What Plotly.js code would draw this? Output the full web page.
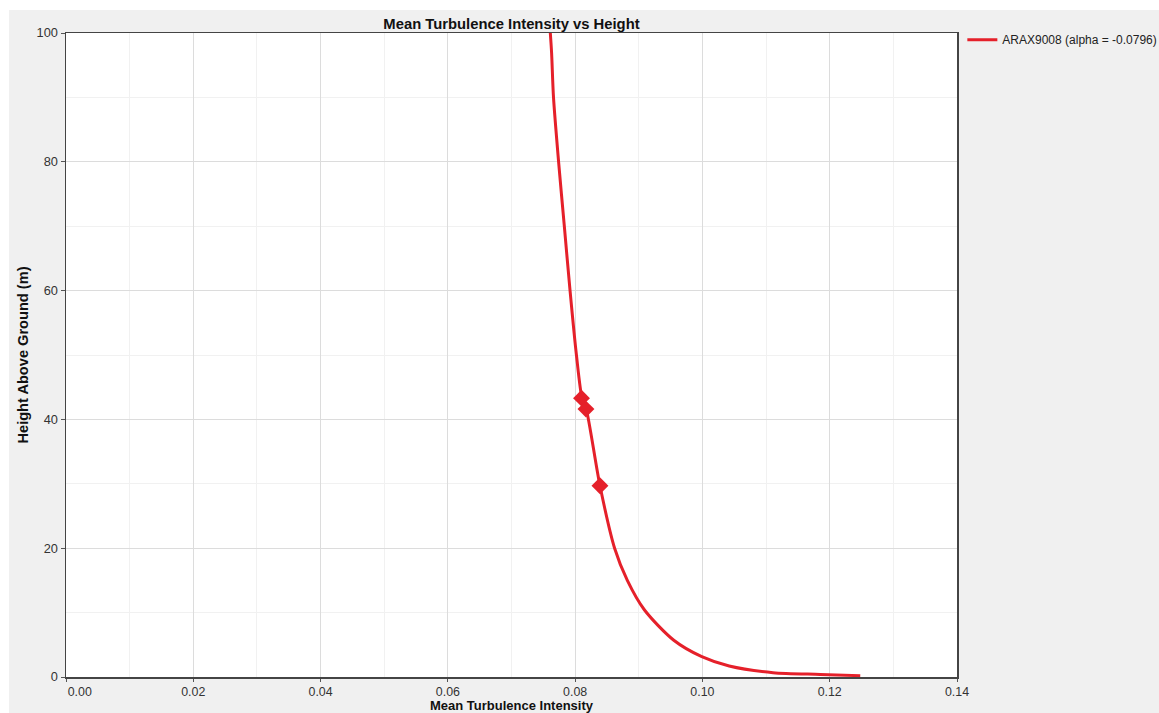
<!DOCTYPE html>
<html>
<head>
<meta charset="utf-8">
<script src="https://cdn.plot.ly/plotly-3.0.1.min.js"></script>
<style>
  html, body { margin: 0; padding: 0; background: #ffffff; }
  #chart { position: absolute; left: 9px; top: 10px; width: 1150px; height: 703px; }
</style>
</head>
<body>
<div id="chart"></div>
<script>
// Turbulence intensity profile (power-law fit) and measured points
const profileHeight = [100, 96.9, 90, 80, 70, 60, 50, 43.2, 41.8, 29.7, 20, 15, 10.4, 5.7, 3.15, 1.7, 0.67, 0.4, 0.2];
const profileTI     = [0.0761, 0.0763, 0.0766, 0.0774, 0.0783, 0.0792, 0.0802, 0.0811, 0.0817, 0.0839, 0.0862, 0.0882, 0.0909, 0.0955, 0.0999, 0.1042, 0.1111, 0.1185, 0.1248];

const measuredHeight = [43.3, 41.6, 29.7];
const measuredTI     = [0.0810, 0.0817, 0.0839];

const seriesName = 'ARAX9008 (alpha = -0.0796)';
const xTitle = 'Mean Turbulence Intensity';
const yTitle = 'Height Above Ground (m)';

const xTickVals = [0, 0.02, 0.04, 0.06, 0.08, 0.10, 0.12, 0.14];
const xTickText = ['\u00a0\u00a0\u00a0\u00a0\u00a0\u00a0\u00a0\u00a00.00', '0.02', '0.04', '0.06', '0.08', '0.10', '0.12', '0.14'];
const yTickVals = [0, 20, 40, 60, 80, 100];

const red = '#e5202a';
const fontFamily = '"Liberation Sans", Arial, sans-serif';

const traces = [
  {
    type: 'scatter', mode: 'lines',
    x: profileTI, y: profileHeight,
    name: seriesName,
    line: { color: red, width: 3, shape: 'spline', smoothing: 0.8 },
    hoverinfo: 'x+y'
  },
  {
    type: 'scatter', mode: 'markers',
    x: measuredTI, y: measuredHeight,
    showlegend: false,
    marker: { symbol: 'diamond', size: 13, color: red, line: { width: 0 } },
    hoverinfo: 'x+y'
  }
];

const axisCommon = {
  showline: true, linecolor: '#444444', linewidth: 1.5, mirror: true,
  ticks: 'outside', ticklen: 4, tickcolor: '#555555', tickwidth: 1,
  gridcolor: '#dcdcdc', gridwidth: 1,
  zeroline: false,
  tickfont: { family: fontFamily, size: 12.8, color: '#333333' }
};

const layout = {
  width: 1150, height: 703,
  paper_bgcolor: '#f0f0f0', plot_bgcolor: '#ffffff',
  margin: { l: 57, r: 202, t: 23, b: 36, autoexpand: false },
  font: { family: fontFamily, size: 12, color: '#000000' },
  title: {
    text: 'Mean Turbulence Intensity vs Height',
    font: { family: fontFamily, size: 14.8, weight: 'bold', color: '#111111' },
    xref: 'paper', x: 0.5, xanchor: 'center',
    yref: 'container', y: 0.981, yanchor: 'middle'
  },
  xaxis: Object.assign({}, axisCommon, {
    range: [0, 0.14],
    ticklen: 3,
    tickfont: { family: fontFamily, size: 12.4, color: '#333333' },
    tickmode: 'array', tickvals: xTickVals, ticktext: xTickText,
    minor: { dtick: 0.01, showgrid: true, gridcolor: '#f1f1f1', ticks: '' }
  }),
  yaxis: Object.assign({}, axisCommon, {
    range: [0, 100],
    tickmode: 'array', tickvals: yTickVals,
    minor: { dtick: 10, showgrid: true, gridcolor: '#f1f1f1', ticks: '' },
    title: { text: yTitle, standoff: 4,
             font: { family: fontFamily, size: 14.6, weight: 'bold', color: '#111111' } }
  }),
  // x-axis title sits tight under the tick labels, below the bottom margin limit
  annotations: [{
    text: xTitle, showarrow: false,
    xref: 'paper', x: 0.5, xanchor: 'center',
    yref: 'paper', y: 0, yanchor: 'middle', yshift: -28.5, borderpad: 0,
    font: { family: fontFamily, size: 13, weight: 'bold', color: '#111111' }
  }],
  showlegend: true,
  legend: {
    x: 1.006, xanchor: 'left', y: 1.012, yanchor: 'top',
    bgcolor: 'rgba(0,0,0,0)', borderwidth: 0,
    font: { family: fontFamily, size: 12, color: '#222222' },
    itemwidth: 30
  }
};

Plotly.newPlot('chart', traces, layout, { displayModeBar: false, staticPlot: true });
</script>
</body>
</html>
